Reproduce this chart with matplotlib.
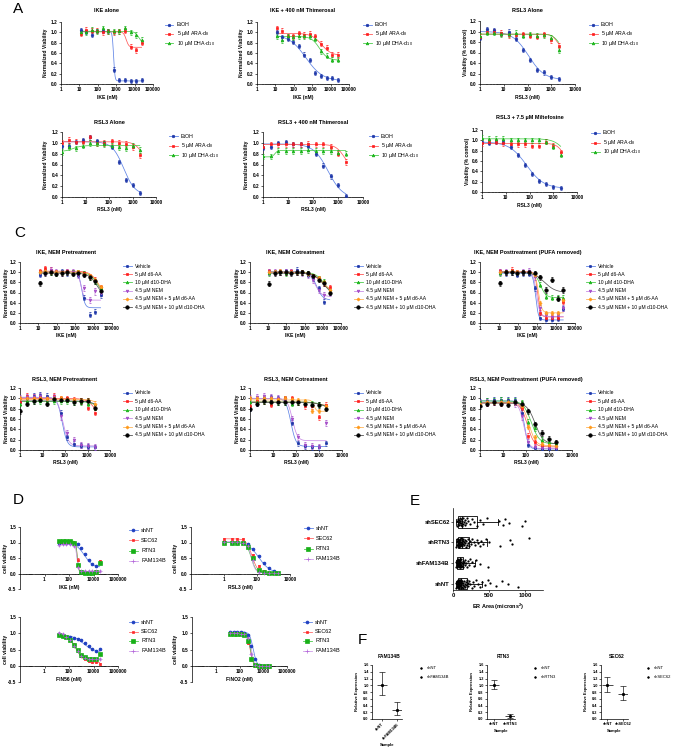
import numpy as np
import matplotlib
matplotlib.use("Agg")
import matplotlib.pyplot as plt
from matplotlib.lines import Line2D
from matplotlib.ticker import LogLocator, NullFormatter

plt.rcParams["font.family"] = ["Liberation Sans", "DejaVu Sans"]
plt.rcParams["mathtext.fontset"] = "custom"
plt.rcParams["mathtext.rm"] = "Liberation Sans"
plt.rcParams["mathtext.bf"] = "Liberation Sans:bold"

# ---------------- data ----------------
IKE_CONC = [11.7, 23.4, 46.9, 93.8, 187.5, 375, 750, 1500, 3000, 6000, 12000, 24000]
RSL3_CONC = [1, 2, 4, 8, 16, 32, 64, 128, 256, 512, 1024, 2048]

A_LABELS = ["EtOH", r"5 µM ARA-d$_\mathregular{8}$", r"10 µM DHA-d$_\mathregular{10}$"]

# panel A: one list per series (EtOH, ARA-d8, DHA-d10)
A1_VALS = [[1.05, 1.0, 0.95, 1.02, 1.02, 1.02, 0.28, 0.08, 0.07, 0.05, 0.05, 0.08],
           [0.97, 1.05, 1.03, 1.03, 1.0, 1.02, 1.0, 1.02, 1.03, 0.72, 0.65, 0.80],
           [1.0, 1.0, 1.05, 1.02, 1.08, 1.02, 1.02, 1.02, 1.08, 1.0, 0.95, 0.85]]
A2_VALS = [[1.0, 0.9, 0.87, 0.82, 0.73, 0.57, 0.46, 0.22, 0.15, 0.12, 0.11, 0.07],
           [1.08, 1.03, 0.92, 0.92, 0.98, 0.95, 0.97, 0.92, 0.78, 0.70, 0.57, 0.56],
           [0.93, 0.85, 0.92, 0.90, 0.92, 0.92, 0.92, 0.88, 0.63, 0.55, 0.47, 0.47]]
A3_VALS = [[0.87, 1.05, 1.02, 0.95, 1.0, 0.85, 0.65, 0.45, 0.27, 0.22, 0.14, 0.10],
           [0.90, 1.0, 1.0, 0.97, 0.93, 0.93, 0.95, 0.92, 0.90, 0.95, 0.83, 0.73],
           [0.92, 0.98, 0.98, 0.95, 0.95, 0.97, 0.92, 0.95, 0.92, 0.93, 0.88, 0.65]]
A4_VALS = [[0.95, 0.95, 1.02, 1.05, 1.10, 1.03, 1.0, 0.92, 0.65, 0.32, 0.22, 0.07],
           [1.0, 1.05, 1.02, 1.02, 1.10, 1.0, 1.0, 1.03, 1.0, 0.98, 0.92, 0.77],
           [0.83, 0.92, 0.90, 0.95, 1.0, 1.0, 0.98, 0.95, 0.92, 0.90, 0.95, 0.87]]
A5_VALS = [[0.90, 0.93, 1.0, 1.02, 0.97, 0.97, 0.95, 0.80, 0.58, 0.38, 0.22, 0.02],
           [0.93, 0.97, 0.97, 0.98, 0.97, 0.97, 0.98, 0.97, 0.97, 0.93, 0.80, 0.65],
           [0.75, 0.75, 0.85, 0.85, 0.85, 0.85, 0.87, 0.85, 0.85, 0.85, 0.82, 0.80]]
A6_VALS = [[0.97, 0.95, 0.97, 0.97, 0.87, 0.72, 0.52, 0.35, 0.22, 0.15, 0.10, 0.07],
           [0.95, 0.97, 0.97, 0.95, 0.92, 0.92, 0.92, 0.90, 0.90, 0.97, 0.90, 0.77],
           [1.05, 1.03, 1.03, 1.03, 1.0, 1.0, 1.0, 1.0, 1.0, 0.97, 0.88, 0.72]]
# 4-parameter fits: (left plateau, right plateau, EC50, slope)
A1_FIT = [(1.02, 0.06, 720, 12), (1.01, 0.71, 3500, 6), (1.02, 0.78, 17000, 4)]
A2_FIT = [(0.96, 0.06, 450, 0.95), (0.98, 0.55, 3200, 1.6), (0.92, 0.46, 2500, 2)]
A3_FIT = [(1.0, 0.08, 110, 1.3), (0.95, 0.68, 1700, 4), (0.95, 0.60, 2200, 3)]
A4_FIT = [(1.02, 0.04, 420, 1.8), (1.02, 0.60, 2600, 2.5), (0.84, 0.95, 3, 2.5)]
A5_FIT = [(0.98, -0.02, 400, 1.5), (0.97, 0.50, 1800, 2.5), (0.74, 0.86, 3, 8)]
A6_FIT = [(0.97, 0.07, 75, 1.2), (0.94, 0.60, 2500, 3), (1.03, 0.50, 3500, 1.8)]
A_SD = [0.04, 0.05, 0.05]

C_LABELS = ["Vehicle", "5 µM d6-AA", "10 µM d10-DHA", "4.5 µM NEM",
            "4.5 µM NEM + 5 µM d6-AA", "4.5 µM NEM + 10 µM d10-DHA"]
C1_VALS = [[0.95, 1.0, 1.02, 1.0, 1.02, 0.98, 1.0, 0.95, 0.50, 0.16, 0.22, 0.55],
           [1.02, 1.08, 1.05, 1.0, 1.0, 1.02, 1.0, 1.0, 0.98, 0.92, 0.85, 0.70],
           [1.0, 1.02, 1.0, 0.98, 1.0, 1.0, 1.0, 1.0, 0.97, 0.90, 0.82, 0.68],
           [0.98, 1.0, 1.05, 1.0, 0.98, 1.0, 1.0, 0.95, 0.68, 0.45, 0.62, 0.60],
           [1.0, 1.02, 1.0, 1.0, 1.0, 1.0, 0.98, 1.0, 0.97, 0.92, 0.85, 0.70],
           [0.78, 0.98, 1.0, 0.97, 0.98, 1.0, 0.97, 0.98, 0.95, 0.90, 0.82, 0.62]]
C2_VALS = [[1.0, 1.0, 1.0, 1.02, 1.0, 1.05, 1.0, 0.95, 0.88, 0.68, 0.42, 0.60],
           [1.02, 1.0, 1.0, 1.0, 1.02, 1.0, 1.0, 0.98, 0.92, 0.88, 0.78, 0.70],
           [0.98, 1.0, 1.0, 0.98, 1.0, 1.0, 1.0, 0.97, 0.92, 0.88, 0.82, 0.62],
           [1.0, 1.0, 1.0, 1.0, 1.0, 1.0, 0.98, 0.95, 0.85, 0.65, 0.55, 0.60],
           [1.0, 1.0, 1.02, 1.0, 1.0, 1.0, 1.0, 0.97, 0.92, 0.88, 0.80, 0.65],
           [0.77, 0.98, 1.0, 1.0, 0.98, 1.0, 1.0, 0.98, 0.92, 0.85, 0.78, 0.60]]
C3_VALS = [[1.0, 0.98, 1.0, 0.95, 0.98, 0.97, 0.68, 0.10, 0.05, 0.05, 0.08, 0.28],
           [1.02, 1.0, 1.05, 1.0, 1.0, 1.0, 0.95, 0.20, 0.10, 0.10, 0.10, 0.42],
           [0.98, 1.0, 1.0, 0.98, 1.0, 1.0, 0.95, 0.75, 0.52, 0.50, 0.50, 0.50],
           [1.0, 1.0, 1.0, 0.98, 1.0, 1.02, 0.90, 0.30, 0.15, 0.12, 0.15, 0.30],
           [1.0, 1.0, 1.02, 1.0, 1.0, 1.0, 0.95, 0.40, 0.20, 0.20, 0.20, 0.45],
           [0.78, 1.0, 1.0, 0.98, 1.0, 1.0, 0.98, 0.90, 0.65, 0.85, 0.48, 0.65]]
C4_VALS = [[0.93, 1.0, 1.05, 1.07, 1.05, 1.0, 0.72, 0.25, 0.12, 0.08, 0.06, 0.05],
           [0.93, 1.05, 1.03, 1.02, 1.0, 1.05, 1.0, 1.0, 0.97, 0.95, 0.82, 0.72],
           [0.90, 0.95, 0.95, 0.95, 0.93, 0.95, 0.95, 0.95, 0.92, 0.92, 0.90, 0.82],
           [1.0, 1.02, 1.03, 1.05, 1.0, 1.02, 0.65, 0.33, 0.20, 0.10, 0.08, 0.06],
           [1.0, 1.0, 1.0, 1.0, 1.0, 1.0, 1.0, 0.98, 0.97, 0.97, 0.97, 0.90],
           [0.75, 0.90, 0.95, 0.97, 0.90, 0.98, 0.97, 0.97, 0.93, 0.95, 0.95, 0.82]]
C5_VALS = [[0.80, 0.90, 1.0, 1.02, 1.0, 1.0, 0.53, 0.13, 0.07, 0.05, 0.05, 0.13],
           [0.85, 0.95, 0.95, 0.88, 0.98, 1.0, 1.0, 0.92, 0.85, 0.85, 0.63, 0.88],
           [0.92, 0.92, 0.95, 0.93, 0.93, 0.92, 0.90, 0.92, 0.92, 0.90, 0.88, 0.82],
           [1.0, 1.03, 1.05, 1.03, 1.0, 0.97, 0.60, 0.25, 0.10, 0.08, 0.05, 0.52],
           [1.0, 1.0, 1.0, 1.0, 0.98, 1.0, 0.98, 0.97, 0.95, 0.75, 0.75, 0.85],
           [0.80, 0.90, 0.95, 0.92, 0.92, 0.92, 0.92, 0.92, 0.90, 0.88, 0.87, 0.80]]
C6_VALS = [[0.93, 0.95, 0.97, 0.97, 0.97, 0.97, 0.72, 0.10, 0.03, 0.02, 0.02, 0.02],
           [0.88, 0.90, 0.92, 0.90, 0.92, 0.92, 0.82, 0.28, 0.15, 0.10, 0.07, 0.06],
           [0.92, 0.95, 0.95, 0.97, 0.95, 0.95, 0.92, 0.55, 0.42, 0.20, 0.15, 0.13],
           [0.90, 0.92, 0.93, 0.93, 0.93, 0.90, 0.65, 0.15, 0.05, 0.03, 0.03, 0.03],
           [0.90, 0.92, 0.93, 0.92, 0.92, 0.92, 0.85, 0.45, 0.25, 0.12, 0.10, 0.08],
           [0.85, 0.90, 0.92, 0.90, 0.88, 0.92, 0.90, 0.75, 0.50, 0.33, 0.22, 0.15]]
C1_FIT = [(1.0, 0.30, 2300, 5), (1.02, 0.50, 18000, 2), (1.0, 0.50, 17000, 2),
          (1.0, 0.45, 2100, 5), (1.0, 0.55, 18000, 2.2), (0.98, 0.50, 15000, 2)]
C2_FIT = [(1.01, 0.45, 4500, 2.5), (1.0, 0.60, 9000, 1.5), (1.0, 0.55, 12000, 1.8),
          (1.0, 0.52, 3800, 2.5), (1.0, 0.58, 10000, 1.6), (0.98, 0.55, 11000, 1.7)]
C3_FIT = [(0.98, 0.06, 850, 6), (1.01, 0.12, 1100, 6), (1.0, 0.50, 1500, 3),
          (1.0, 0.13, 950, 5), (1.0, 0.20, 1200, 5), (1.0, 0.60, 2500, 1.5)]
C4_FIT = [(1.02, 0.06, 75, 4), (1.0, 0.40, 3000, 2), (0.94, 0.70, 3500, 2),
          (1.02, 0.08, 80, 3.5), (0.98, 0.85, 2500, 3), (0.95, 0.72, 3500, 2)]
C5_FIT = [(1.0, 0.07, 60, 4), (0.93, 0.85, 1000, 2), (0.93, 0.78, 1800, 2),
          (1.0, 0.18, 70, 4), (0.97, 0.75, 600, 8), (0.92, 0.78, 1800, 2)]
C6_FIT = [(0.95, 0.02, 85, 5), (0.91, 0.06, 115, 3), (0.95, 0.12, 170, 2.5),
          (0.92, 0.03, 80, 4), (0.92, 0.08, 135, 3), (0.91, 0.12, 250, 2.5)]
C_SD = [0.05, 0.05, 0.05, 0.06, 0.04, 0.05]

D_LABELS = ["shNT", "SEC62", "RTN3", "FAM134B"]
D_CONC = [15.6, 31.3, 62.5, 125, 250, 500, 1000, 2000, 4000, 8000, 16000, 32000]
D_RSL3_CONC = [1, 3, 6, 15, 30, 60, 125, 250, 500, 1000, 2000]
D1_VALS = [[1.0, 1.0, 0.97, 0.97, 0.97, 0.95, 0.82, 0.62, 0.45, 0.30, 0.25, 0.33],
           [1.03, 1.03, 1.03, 1.02, 1.0, 0.45, 0.05, 0.03, 0.02, 0.02, 0.03, 0.40],
           [1.05, 1.05, 1.05, 1.05, 1.0, 0.27, 0.05, 0.02, 0.02, 0.02, 0.05, 0.35],
           [0.92, 0.95, 0.95, 0.95, 0.90, 0.20, 0.07, 0.07, 0.07, 0.07, 0.07, 0.07]]
D2_VALS = [[1.02, 1.0, 1.0, 1.0, 0.95, 0.80, 0.58, 0.35, 0.19, 0.08, 0.03],
           [1.12, 1.12, 1.12, 1.10, 0.90, 0.60, 0.25, 0.08, 0.03, 0.02, 0.02],
           [1.0, 1.0, 1.0, 0.98, 0.85, 0.50, 0.12, 0.05, 0.02, 0.02, 0.02],
           [1.03, 1.03, 1.03, 1.0, 0.90, 0.45, 0.05, 0.02, 0.02, 0.02, 0.02]]
D3_VALS = [[0.98, 0.93, 0.90, 0.88, 0.85, 0.82, 0.78, 0.70, 0.60, 0.52, 0.45, 0.53],
           [0.97, 0.92, 0.88, 0.80, 0.65, 0.48, 0.30, 0.22, 0.15, 0.12, 0.12, 0.06],
           [0.95, 0.92, 0.87, 0.80, 0.65, 0.48, 0.33, 0.27, 0.22, 0.20, 0.22, 0.35],
           [1.0, 0.98, 0.88, 0.78, 0.62, 0.45, 0.30, 0.25, 0.20, 0.20, 0.20, 0.22]]
D4_VALS = [[1.05, 1.05, 1.05, 1.03, 1.02, 0.95, 0.60, 0.20, 0.02, 0.0, 0.0, 0.0],
           [1.0, 1.0, 1.0, 1.0, 0.97, 0.70, 0.20, 0.0, -0.02, -0.02, -0.02, -0.02],
           [0.98, 0.98, 0.98, 0.98, 0.95, 0.75, 0.22, 0.02, 0.0, 0.0, 0.0, 0.0],
           [1.0, 1.0, 1.0, 0.98, 0.97, 0.85, 0.35, 0.02, 0.0, 0.0, 0.0, 0.0]]
D1_FIT = [(0.98, 0.20, 1800, 1.3), (1.03, 0.03, 480, 7), (1.05, 0.03, 470, 7), (0.94, 0.07, 440, 7)]
D2_FIT = [(1.01, 0.02, 130, 1.3), (1.12, 0.02, 50, 2.5), (1.0, 0.02, 45, 3), (1.03, 0.02, 45, 3.5)]
D3_FIT = [(0.95, 0.42, 1500, 1.0), (0.98, 0.10, 350, 1.3), (0.97, 0.20, 300, 1.5), (1.0, 0.20, 300, 1.5)]
D4_FIT = [(1.04, 0.0, 1400, 3), (1.0, -0.02, 800, 3.5), (0.98, 0.0, 850, 3.5), (1.0, 0.0, 1000, 3.5)]
D_SD = [0.03, 0.04, 0.03, 0.03]

E_GROUPS = ["shNT", "shFAM134B", "shRTN3", "shSEC62"]   # bottom to top
E_POINTS = [
    [40, 45, 50, 55, 58, 60, 62, 65, 67, 70, 72, 74, 76, 78, 80, 82, 84, 86, 88, 90, 92, 95,
     98, 100, 102, 105, 108, 112, 115, 118, 122, 126, 130, 135, 140, 145, 150, 156, 162, 170,
     178, 186, 195, 205, 215, 228, 242, 258, 275, 295, 320, 345, 370, 400, 440, 480, 520,
     600, 680, 770, 900],
    [40, 45, 50, 55, 58, 60, 63, 66, 68, 70, 72, 74, 76, 78, 80, 82, 84, 86, 88, 90, 92, 94,
     96, 98, 100, 103, 106, 110, 114, 118, 122, 127, 132, 138, 145, 152, 160, 170, 180, 192,
     205, 220, 240, 265, 290, 320, 375, 490],
    [45, 55, 60, 62, 65, 68, 70, 72, 75, 78, 80, 82, 85, 88, 90, 92, 95, 98, 100, 103, 106,
     110, 113, 117, 120, 124, 128, 132, 137, 142, 148, 155, 162, 170, 178, 186, 195, 205, 215,
     228, 240, 255, 270, 290, 310, 330, 350, 370, 390, 420, 460, 500, 650, 790, 820, 1060],
    [55, 62, 70, 75, 80, 85, 88, 92, 95, 100, 105, 110, 115, 120, 128, 135, 142, 150, 160,
     170, 185, 200, 215, 240, 260, 290, 330, 370, 420, 470, 640, 690, 720, 780, 960, 1000],
]
E_Q1 = [65, 60, 70, 75]
E_MED = [110, 95, 130, 130]
E_Q3 = [195, 145, 225, 330]
E_WLO = [35, 35, 40, 45]
E_WHI = [400, 300, 470, 625]

F_GENES = ["FAM134B", "RTN3", "SEC62"]
F_SAMPLES = [["shNT", "shFAM134B"], ["shNT", "shRTN3"], ["shNT", "shSEC62"]]
F_MEAN = [[1.0, 0.27], [1.0, 0.08], [1.0, 0.73]]
F_LOW = [[0.70, 0.13], [0.88, 0.02], [0.80, 0.55]]
F_HIGH = [[1.40, 0.51], [1.15, 0.15], [1.25, 0.97]]

# ---------------- styling ----------------
W, H = 673, 750
fig = plt.figure(figsize=(W / 100, H / 100), dpi=100)
fig.patch.set_facecolor("white")

BLUE, BLUE_L = "#1d36a8", "#5f84e6"
RED, RED_L = "#ff1c1c", "#ff5a5a"
GREEN, GREEN_L = "#19b419", "#4ccc4c"
PURPLE, PURPLE_L = "#a54cc8", "#c98ee6"
ORANGE, ORANGE_L = "#ff9a1a", "#ffb55a"

A_STY = [(BLUE, BLUE_L, "o", 1.8), (RED, RED_L, "s", 1.8), (GREEN, GREEN_L, "^", 1.9)]
C_STY = [(BLUE, BLUE_L, "o", 1.7), (RED, RED_L, "s", 1.9), (GREEN, GREEN_L, "^", 1.9),
         (PURPLE, PURPLE_L, "v", 1.9), (ORANGE, ORANGE_L, "D", 1.6), ("black", "#555555", "o", 2.5)]
D_STY = [("#1f3fc0", "#5f84e6", "o", 2.1), ("#ff2a2a", "#ff6a6a", "s", 1.6),
         ("#18b018", "#4ccc4c", "s", 2.4), ("#b366d9", "#cf9be9", "+", 2.6)]


def hill(x, left, right, ec50, slope):
    return right + (left - right) / (1 + (x / ec50) ** slope)


def add_ax(l, t, r, b):
    return fig.add_axes([l / W, 1 - b / H, (r - l) / W, (b - t) / H])


def ftext(x, y, s, **kw):
    return fig.text(x / W, 1 - y / H, s, **kw)


def style_ax(ax, fs=3.4):
    for s in ["top", "right"]:
        ax.spines[s].set_visible(False)
    for s in ["left", "bottom"]:
        ax.spines[s].set_linewidth(0.5)
    ax.tick_params(which="major", length=1.6, width=0.45, pad=0.8, labelsize=fs)
    ax.tick_params(which="minor", length=0.9, width=0.35)


def bold_ticks(ax):
    for t in ax.get_xticklabels() + ax.get_yticklabels():
        t.set_fontweight("bold")


def legend_px(x, y, dy, labels, styles, fs=3.8, gap=8, half=4.5, line=True):
    for i, (lab, (mc, lc, mk, ms)) in enumerate(zip(labels, styles)):
        yy = 1 - (y + i * dy) / H
        if line:
            fig.add_artist(Line2D([(x - half) / W, (x + half) / W], [yy, yy], color=lc,
                                  lw=0.6, transform=fig.transFigure))
        fig.add_artist(Line2D([x / W], [yy], marker=mk, ms=ms, color=mc, mew=0.5,
                              linestyle="none", transform=fig.transFigure))
        ftext(x + gap, y + i * dy, lab, fontsize=fs, va="center", ha="left")


def dose_panel(box, conc, vals, fits, sds, styles, labels, xlim, xmajor, title, xlabel, ylabel,
               title_y, xlabel_y, ylabel_x, leg, ylim=(0, 1.2), yticks=None, cross_zero=False,
               leg_fs=3.8):
    l, t, r, b = box
    ax = add_ax(l, t, r, b)
    ax.set_xscale("log")
    xx = np.logspace(np.log10(conc[0]), np.log10(conc[-1]), 300)
    for v, f, sd, (mc, lc, mk, ms) in zip(vals, fits, sds, styles):
        ax.plot(xx, hill(xx, *f), color=lc, lw=0.55, zorder=2)
        ax.errorbar(conc, v, yerr=sd, fmt=mk, ms=ms, color=mc, ecolor=mc, mew=0.5,
                    elinewidth=0.35, capsize=0.6, capthick=0.35, zorder=3)
    ax.set_xlim(*xlim)
    ax.set_ylim(*ylim)
    if yticks is None:
        yticks = np.round(np.arange(0, 1.21, 0.2), 1)
    ax.set_yticks(yticks)
    ax.set_yticklabels([f"{v:.1f}" for v in yticks])
    ax.set_xticks(xmajor)
    ax.set_xticklabels([f"{int(v)}" for v in xmajor])
    ax.xaxis.set_minor_locator(LogLocator(base=10, subs=np.arange(2, 10), numticks=100))
    ax.xaxis.set_minor_formatter(NullFormatter())
    style_ax(ax)
    if cross_zero:
        ax.spines["bottom"].set_position(("data", 0))
        ax.xaxis.set_minor_locator(LogLocator(base=10, subs=np.arange(1, 10), numticks=100))
    bold_ticks(ax)
    cx = (l + r) / 2
    ftext(cx, title_y, title, fontsize=4.0, fontweight="bold", ha="center", va="center")
    ftext(cx, xlabel_y, xlabel, fontsize=3.6, fontweight="bold", ha="center", va="center")
    ftext(ylabel_x, (t + b) / 2, ylabel, fontsize=3.6, fontweight="bold", rotation=90,
          ha="center", va="center")
    legend_px(leg[0], leg[1], leg[2], labels, styles, fs=leg_fs)
    return ax


# ---------------- panel A ----------------
ftext(18, 9, "A", fontsize=11, ha="center", va="center")
ike_ticks = [1, 10, 100, 1000, 10000, 100000]
rsl_ticks = [1, 10, 100, 1000, 10000]
NV = "Normalized Viability"
VC = "Viability (% control)"
dose_panel((61, 22, 153, 84), IKE_CONC, A1_VALS, A1_FIT, A_SD, A_STY, A_LABELS, (1, 1e5), ike_ticks,
           "IKE alone", "IKE (nM)", NV, 10, 97, 45, (169, 25, 9))
dose_panel((257, 22, 349, 84), IKE_CONC, A2_VALS, A2_FIT, A_SD, A_STY, A_LABELS, (1, 1e5), ike_ticks,
           "IKE + 400 nM Thimerosal", "IKE (nM)", NV, 10, 97, 242, (367, 25, 9))
dose_panel((480, 21, 575, 84), RSL3_CONC, A3_VALS, A3_FIT, A_SD, A_STY, A_LABELS, (1, 1e4), rsl_ticks,
           "RSL3 Alone", "RSL3 (nM)", VC, 10, 97, 465, (593, 25, 9))
dose_panel((62, 132, 156, 197), RSL3_CONC, A4_VALS, A4_FIT, A_SD, A_STY, A_LABELS, (1, 1e4), rsl_ticks,
           "RSL3 Alone", "RSL3 (nM)", NV, 122, 210, 45, (173, 136, 9.5))
dose_panel((263, 132, 363, 197), RSL3_CONC, A5_VALS, A5_FIT, A_SD, A_STY, A_LABELS, (1, 1e4), rsl_ticks,
           "RSL3 + 400 nM Thimerosal", "RSL3 (nM)", NV, 122, 210, 247, (373, 136, 9.5))
dose_panel((482, 130, 577, 192), RSL3_CONC, A6_VALS, A6_FIT, A_SD, A_STY, A_LABELS, (1, 1e4), rsl_ticks,
           "RSL3 + 7.5 µM Miltefosine", "RSL3 (nM)", VC, 118, 205, 467, (595, 133, 9.5))

# ---------------- panel C ----------------
ftext(20, 233, "C", fontsize=11, ha="center", va="center")
dose_panel((20, 262, 112, 323), IKE_CONC, C1_VALS, C1_FIT, C_SD, C_STY, C_LABELS, (1, 1e5), ike_ticks,
           "IKE, NEM Pretreatment", "IKE (nM)", NV, 252, 336, 7, (127, 266, 8.2), leg_fs=3.6)
dose_panel((250, 262, 341, 323), IKE_CONC, C2_VALS, C2_FIT, C_SD, C_STY, C_LABELS, (1, 1e5), ike_ticks,
           "IKE, NEM Cotreatment", "IKE (nM)", NV, 252, 336, 237, (358, 266, 8.2), leg_fs=3.6)
dose_panel((480, 262, 575, 323), IKE_CONC, C3_VALS, C3_FIT, C_SD, C_STY, C_LABELS, (1, 1e5), ike_ticks,
           "IKE, NEM Posttreatment (PUFA removed)", "IKE (nM)", NV, 253, 336, 466, (590, 266, 8.2),
           leg_fs=3.6)
dose_panel((20, 388, 110, 450), RSL3_CONC, C4_VALS, C4_FIT, C_SD, C_STY, C_LABELS, (1, 1e4), rsl_ticks,
           "RSL3, NEM Pretreatment", "RSL3 (nM)", NV, 379, 463, 7, (127, 393, 8.4), leg_fs=3.6)
dose_panel((250, 388, 342, 450), RSL3_CONC, C5_VALS, C5_FIT, C_SD, C_STY, C_LABELS, (1, 1e4), rsl_ticks,
           "RSL3, NEM Cotreatment", "RSL3 (nM)", NV, 379, 463, 237, (358, 393, 8.4), leg_fs=3.6)
dose_panel((480, 388, 572, 450), RSL3_CONC, C6_VALS, C6_FIT, C_SD, C_STY, C_LABELS, (1, 1e4), rsl_ticks,
           "RSL3, NEM Posttreatment (PUFA removed)", "RSL3 (nM)", NV, 379, 463, 466, (590, 393, 8.4),
           leg_fs=3.6)

# ---------------- panel D ----------------
ftext(18, 500, "D", fontsize=11, ha="center", va="center")
d_yt = [-0.5, 0.0, 0.5, 1.0, 1.5]
d_wide = [1, 100, 10000, 1000000]
d_narrow = [1, 100, 10000]
dose_panel((20, 527, 118, 589), D_CONC, D1_VALS, D1_FIT, D_SD, D_STY, D_LABELS, (0.01, 1e6), d_wide,
           "", "IKE (nM)", "cell viability", 500, 587, 6, (133, 530, 10.3), ylim=(-0.5, 1.5),
           yticks=d_yt, cross_zero=True, leg_fs=4.0)
dose_panel((191, 527, 290, 589), D_RSL3_CONC, D2_VALS, D2_FIT, D_SD, D_STY, D_LABELS, (0.01, 1e4),
           d_narrow, "", "RSL3 (nM)", "cell viability", 500, 587, 176, (308, 528, 10.3),
           ylim=(-0.5, 1.5), yticks=d_yt, cross_zero=True, leg_fs=4.0)
dose_panel((20, 617, 118, 682), D_CONC, D3_VALS, D3_FIT, D_SD, D_STY, D_LABELS, (0.01, 1e6), d_wide,
           "", "FIN56 (nM)", "cell viability", 600, 679, 6, (133, 622, 9.5), ylim=(-0.5, 1.5),
           yticks=d_yt, cross_zero=True, leg_fs=4.0)
dose_panel((192, 617, 287, 682), D_CONC, D4_VALS, D4_FIT, D_SD, D_STY, D_LABELS, (0.01, 1e6), d_wide,
           "", "FINO2 (nM)", "cell viability", 600, 679, 176, (307, 622, 9.5), ylim=(-0.5, 1.5),
           yticks=d_yt, cross_zero=True, leg_fs=4.0)

# ---------------- panel E ----------------
ftext(415, 501, "E", fontsize=11, ha="center", va="center")
axE = add_ax(453, 508, 543, 590)
stats = [dict(med=m, q1=a, q3=c, whislo=lo, whishi=hi, fliers=[])
         for m, a, c, lo, hi in zip(E_MED, E_Q1, E_Q3, E_WLO, E_WHI)]
pos = np.arange(len(E_GROUPS))
axE.bxp(stats, positions=pos, widths=0.55, orientation="horizontal", patch_artist=True,
        boxprops=dict(facecolor="white", edgecolor="black", linewidth=0.6),
        medianprops=dict(color="black", linewidth=0.6),
        whiskerprops=dict(color="black", linewidth=0.6),
        capprops=dict(color="black", linewidth=0.6), capwidths=0.3)
for p, vals in zip(pos, E_POINTS):
    vals = np.asarray(vals, dtype=float)
    spread = ((np.arange(len(vals)) * 0.618034) % 1 - 0.5) * 0.42
    axE.scatter(vals, p + spread, s=2.6, color="black", linewidths=0, zorder=3)
axE.set_xlim(0, 1250)
axE.set_ylim(-0.3, 3.67)
axE.set_xticks([0, 500, 1000])
axE.set_yticks(pos)
axE.set_yticklabels(E_GROUPS)
style_ax(axE, fs=4.2)
bold_ticks(axE)
ftext(498, 607, r"ER Area (microns$^\mathbf{2}$)", fontsize=4.0, fontweight="bold",
      ha="center", va="center")

# ---------------- panel F ----------------
ftext(362, 640, "F", fontsize=11, ha="center", va="center")
F_BOX = [(372, 665, 402, 719), (487, 665, 515, 719), (601, 665, 628, 719)]
F_XLIM = [(-0.67, 1.33), (-0.44, 1.31), (-0.4, 1.3)]
F_LEG = [421, 535, 648]
for i, gene in enumerate(F_GENES):
    l, t, r, b = F_BOX[i]
    ax = add_ax(l, t, r, b)
    x = np.arange(len(F_SAMPLES[i]))
    mean = np.array(F_MEAN[i])
    lo = np.array(F_LOW[i])
    hi = np.array(F_HIGH[i])
    ax.errorbar(x, mean, yerr=[mean - lo, hi - mean], fmt="none", ecolor="black",
                elinewidth=0.45, capsize=2.0, capthick=0.45)
    ax.hlines(mean, x - 0.33, x + 0.33, color="black", lw=0.5)
    ax.plot(x, mean, "o", ms=1.3, color="black")
    ax.set_xlim(*F_XLIM[i])
    ax.set_ylim(0, 1.6)
    yt = np.round(np.arange(0, 1.61, 0.2), 1)
    ax.set_yticks(yt)
    ax.set_yticklabels([f"{v:.1f}" for v in yt])
    ax.set_xticks(x)
    style_ax(ax, fs=2.8)
    if i == 0:
        ax.set_xticklabels(F_SAMPLES[i], rotation=45, ha="right", rotation_mode="anchor")
        ftext((l + r) / 2, 745, "Sample", fontsize=3.0, fontweight="bold", ha="center", va="center")
    else:
        ax.set_xticklabels(F_SAMPLES[i])
        ftext((l + r) / 2, 731, "Sample", fontsize=3.0, fontweight="bold", ha="center", va="center")
    bold_ticks(ax)
    ftext((l + r) / 2 + 2, 657, gene, fontsize=3.6, fontweight="bold", ha="center", va="center")
    ftext(l - 15, (t + b) / 2, "Relative Expression", fontsize=3.0, fontweight="bold",
          rotation=90, ha="center", va="center")
    legend_px(F_LEG[i], 668, 9, F_SAMPLES[i],
              [("black", "black", "o", 1.2)] * 2, fs=3.0, gap=6, line=False)

fig.savefig("out.png", dpi=100, facecolor="white")
